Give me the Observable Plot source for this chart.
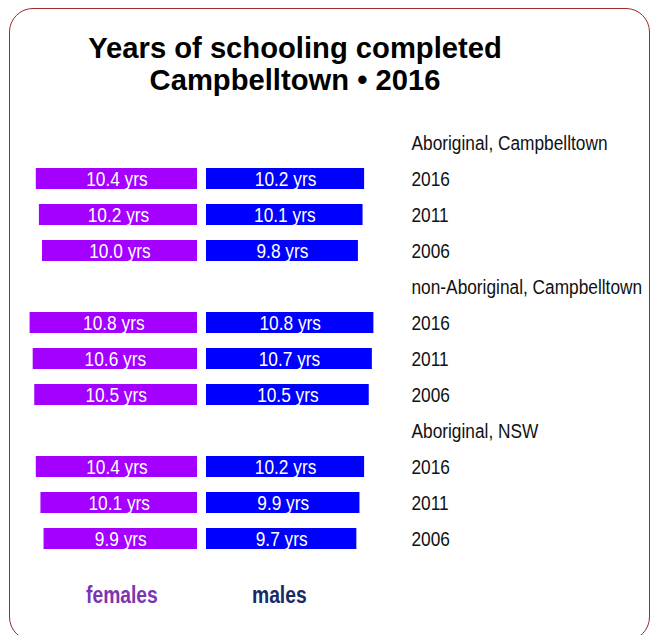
<!DOCTYPE html>
<html>
<head>
<meta charset="utf-8">
<script src="https://cdn.jsdelivr.net/npm/d3@7"></script>
<script src="https://cdn.jsdelivr.net/npm/@observablehq/plot@0.6"></script>
<style>
  html, body { margin: 0; padding: 0; background: #fff; width: 655px; height: 635px; overflow: hidden; }
  #page { position: relative; width: 655px; height: 635px; font-family: "Liberation Sans", Arial, sans-serif; }
  #frame { position: absolute; left: 9px; top: 8px; width: 641px; height: 633px; border: 1.5px solid #A0282A; border-radius: 24px; box-sizing: border-box; pointer-events: none; }
  .title { position: absolute; left: 0; width: 590px; text-align: center; font-weight: bold; font-size: 29.2px; line-height: 30px; color: #000; white-space: nowrap; }
  #chart { position: absolute; left: 0; top: 0; }
  .leg { position: absolute; top: 584px; font-weight: bold; font-size: 19.3px; line-height: 20px; transform: scaleY(1.2); transform-origin: 0 0; white-space: nowrap; }
</style>
</head>
<body>
<div id="page">
  <div class="title" style="top:33px;">Years of schooling completed</div>
  <div class="title" style="top:65px;">Campbelltown • 2016</div>
  <div id="chart"></div>
  <div class="leg" id="legF" style="left:86px; color:#7B35B2;">females</div>
  <div class="leg" id="legM" style="left:252px; color:#15296B;">males</div>
  <div id="frame"></div>
</div>
<script>
// ---- data ----
const groups = ["Aboriginal, Campbelltown", "non-Aboriginal, Campbelltown", "Aboriginal, NSW"];
const years = ["2016", "2011", "2006"];
const females = [10.4, 10.2, 10.0, 10.8, 10.6, 10.5, 10.4, 10.1, 9.9];
const males   = [10.2, 10.1, 9.8, 10.8, 10.7, 10.5, 10.2, 9.9, 9.7];
const unit = " yrs";

// ---- build rows ----
const rows = [];   // every row of the layout (headers + years)
const bars = [];   // rows with bars
groups.forEach((g, gi) => {
  rows.push({key: `h${gi}`, label: g});
  years.forEach((y, yi) => {
    const i = gi * years.length + yi;
    const key = `r${gi}-${y}`;
    rows.push({key, label: y});
    bars.push({key, female: females[i], male: males[i]});
  });
});

const fem = "#A300FF";
const mal = "#0000FF";
const fs = 17.3;

const plot = Plot.plot({
  width: 655,
  height: 635,
  marginLeft: 0,
  marginRight: 252,
  marginTop: 115.25,
  marginBottom: 69.25,
  style: {background: "transparent", fontFamily: "'Liberation Sans', Arial, sans-serif"},
  x: {domain: [-13, 13], axis: null},
  y: {type: "band", domain: rows.map(d => d.key), padding: 0.42, axis: null},
  marks: [
    Plot.barX(bars, {x1: d => -d.female, x2: 0, y: "key", fill: fem, dx: -4.5}),
    Plot.barX(bars, {x1: 0, x2: d => d.male, y: "key", fill: mal, dx: 4.5}),
    Plot.text(bars, {x: d => -d.female / 2, y: "key", text: d => d.female.toFixed(1) + unit, fill: "white", fontSize: fs, dx: -4.5}),
    Plot.text(bars, {x: d => d.male / 2, y: "key", text: d => d.male.toFixed(1) + unit, fill: "white", fontSize: fs, dx: 4.5}),
    Plot.text(rows, {y: "key", text: "label", frameAnchor: "right", textAnchor: "start", dx: 8, fill: "#111", fontSize: fs})
  ]
});

// stretch text vertically to match the reference's tall lettering
plot.querySelectorAll("text").forEach(t => {
  const tr = t.getAttribute("transform");
  if (tr) t.setAttribute("transform", `${tr} scale(1,1.2)`);
});

document.getElementById("chart").appendChild(plot);
</script>
</body>
</html>
